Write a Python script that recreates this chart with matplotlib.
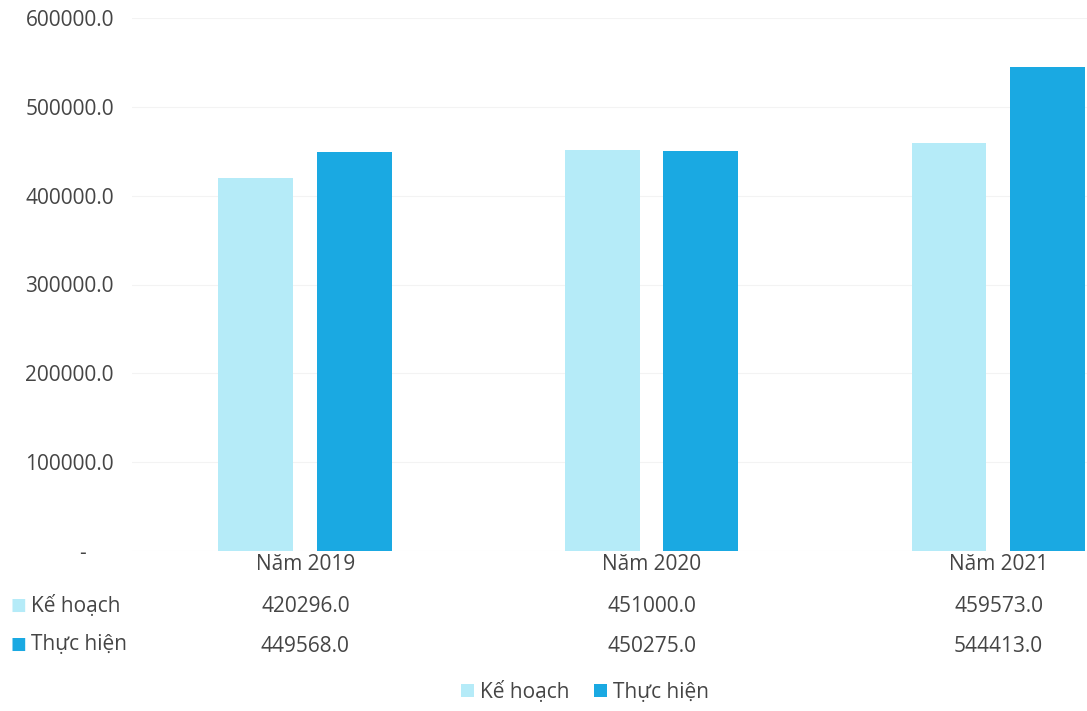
import matplotlib.pyplot as plt
import numpy as np

years = ["Năm 2019", "Năm 2020", "Năm 2021"]
ke_hoach = [420296.0, 451000.0, 459573.0]
thuc_hien = [449568.0, 450275.0, 544413.0]
series_names = ["Kế hoạch", "Thực hiện"]
yticks = [0, 100000, 200000, 300000, 400000, 500000, 600000]

c_light = "#b5ebf8"
c_dark = "#1aa9e2"
txt = "#454545"
fs = 15
plt.rcParams['font.family'] = ['Open Sans', 'DejaVu Sans']

W, H = 1087, 711
fig = plt.figure(figsize=(W / 100, H / 100), dpi=100)
# plot area: left at x=132px, zero line at y=551px, top at y=18px
ax = fig.add_axes([132 / W, (H - 551) / H, (W - 132) / W, (551 - 18) / H])

x = np.arange(len(years))
w = 0.216
ax.bar(x - 0.143, ke_hoach, w, color=c_light, label=series_names[0], zorder=2)
ax.bar(x + 0.141, thuc_hien, w, color=c_dark, label=series_names[1], zorder=2)

ax.set_xlim(-0.5, 2.255)
ax.set_ylim(0, 600000)
ax.set_yticks(yticks)
ax.set_yticklabels(["-     "] + [f"{v:.1f}" for v in yticks[1:]], fontsize=fs, color=txt)
ax.tick_params(axis='y', length=0, pad=13)
ax.tick_params(axis='x', length=0, labelbottom=False)
ax.grid(axis='y', color="#f3f3f3", lw=0.8, zorder=0)
for s in ax.spines.values():
    s.set_visible(False)

# data table under the chart
unit = 600000 / 533
for i, yr in enumerate(years):
    ax.text(x[i], -13 * unit, yr, ha='center', va='center', fontsize=fs, color=txt)
    ax.text(x[i], -55 * unit, f"{ke_hoach[i]:.1f}", ha='center', va='center', fontsize=fs, color=txt)
    ax.text(x[i], -95 * unit, f"{thuc_hien[i]:.1f}", ha='center', va='center', fontsize=fs, color=txt)

for row_y, name, col in [(606, series_names[0], c_light), (645, series_names[1], c_dark)]:
    fig.text(10 / W, 1 - row_y / H, "■", color=col, fontsize=12, va='center', ha='left')
    fig.text(31 / W, 1 - row_y / H, name, color=txt, fontsize=fs, va='center', ha='left')

leg = fig.legend(loc='center', bbox_to_anchor=(585 / W, 1 - 692 / H), ncol=2, frameon=False,
                 fontsize=fs, handlelength=0.6, handleheight=0.6, handletextpad=0.3, columnspacing=1.2)
for t in leg.get_texts():
    t.set_color(txt)

fig.savefig("out.png", dpi=100)
